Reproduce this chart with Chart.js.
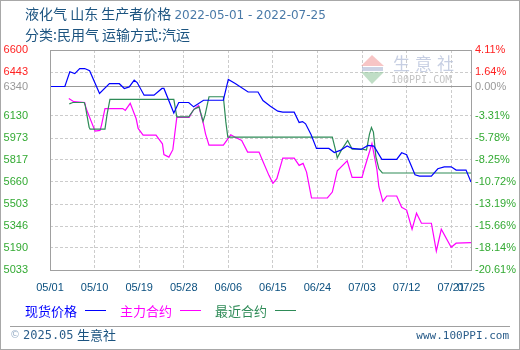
<!DOCTYPE html>
<html>
<head>
<meta charset="utf-8">
<script src="https://cdn.jsdelivr.net/npm/chart.js@4.4.0/dist/chart.umd.min.js"></script>
<style>
    html, body { margin: 0; padding: 0; background: #fff; }
    #wrap { width: 520px; height: 350px; position: relative; }
</style>
</head>
<body>
<div id="wrap"><canvas id="priceChart"></canvas></div>
<script>
// 天数从 05/01 起算
var spotDays = [0, 3, 4, 5, 6, 7, 8, 10, 12, 14, 15, 16, 17, 17.6, 19, 21, 22.6, 23, 25, 26, 28, 29, 31, 35, 36, 37.4, 40, 42, 43, 44.5, 46, 47, 49.3, 50.3, 51, 51.6, 52.7, 53.8, 56.3, 57.4, 58.6, 60, 61, 62.8, 64.2, 65.4, 67, 70, 71, 72, 73.7, 74.6, 77, 78.3, 79.6, 81, 82, 84, 85];
var spotPrices = [6340, 6340, 6445, 6432, 6468, 6468, 6452, 6290, 6360, 6360, 6326, 6337, 6385, 6368, 6278, 6278, 6326, 6326, 6152, 6226, 6226, 6195, 6242, 6242, 6390, 6361, 6301, 6301, 6240, 6200, 6164, 6157, 6157, 6084, 6090, 6074, 5998, 5899, 5899, 5870, 5885, 5917, 5899, 5892, 5920, 5915, 5821, 5821, 5868, 5854, 5711, 5702, 5702, 5754, 5768, 5768, 5745, 5745, 5660];

var mainDays = [3.8, 4.8, 7, 7.3, 9.1, 10.1, 10.4, 11.1, 14.7, 15.2, 16.2, 17.4, 17.8, 18.8, 21.4, 22.7, 23, 24, 24.8, 25.6, 28.1, 29, 30, 31, 31.4, 32.1, 35, 36.5, 37.3, 38.7, 39.9, 42.2, 43, 44.2, 45, 45.8, 47, 49.3, 50.3, 51.1, 51.8, 52.8, 56, 57, 58, 60, 61, 63, 63.4, 65, 66, 66.4, 67.2, 68, 70, 71, 72, 73.1, 74, 75, 77, 77.6, 78, 79, 81, 82, 85];
var mainPrices = [6254, 6232, 6226, 6183, 6022, 6027, 6065, 6183, 6183, 6170, 6220, 6110, 6041, 5994, 5994, 5932, 5855, 5837, 5890, 6120, 6120, 6176, 6204, 6070, 6003, 5922, 5922, 5996, 5980, 5955, 5873, 5873, 5806, 5707, 5650, 5683, 5830, 5830, 5778, 5792, 5730, 5546, 5546, 5588, 5740, 5811, 5693, 5693, 5745, 5934, 5750, 5626, 5522, 5560, 5560, 5480, 5460, 5323, 5437, 5366, 5366, 5247, 5167, 5323, 5195, 5224, 5228];

var nearDays = [3.9, 4.6, 6.9, 7.1, 7.9, 8.1, 11.1, 11.5, 12.1, 25, 25.6, 28, 29.1, 30.1, 30.9, 31.3, 32.1, 35, 35.5, 35.9, 57, 57.6, 58, 58.8, 60.1, 61, 63.1, 63.9, 64.5, 64.9, 65.3, 65.8, 66.4, 67.1, 85];
var nearPrices = [6216, 6226, 6226, 6207, 6050, 6036, 6036, 6136, 6248, 6248, 6124, 6124, 6178, 6195, 6092, 6136, 6267, 6267, 6088, 5980, 5980, 5894, 5832, 5885, 5956, 5894, 5894, 5887, 6001, 6048, 6015, 5839, 5754, 5724, 5724];

var dateDays = [0, 9, 18, 27, 36, 45, 54, 63, 72, 81, 85];
var dateLabels = ['05/01', '05/10', '05/19', '05/28', '06/06', '06/15', '06/24', '07/03', '07/12', '07/21', '07/25'];
var priceTicks = [5033, 5190, 5346, 5503, 5660, 5817, 5973, 6130, 6340, 6443, 6600];
var pctLabels = ['-20.61%', '-18.14%', '-15.66%', '-13.19%', '-10.72%', '-8.25%', '-5.78%', '-3.31%', '0.00%', '1.64%', '4.11%'];
var basePrice = 6340;

var seriesNames = ['现货价格', '主力合约', '最近合约'];
var seriesColors = ['#0000ff', '#ff00ff', '#2e8b57'];

function toPoints(days, vals) {
    return days.map(function (d, i) { return { x: d, y: vals[i] }; });
}

function tickColor(ctx) {
    var v = ctx.tick ? ctx.tick.value : 0;
    if (v > basePrice) return '#ff2222';
    if (v === basePrice) return '#999999';
    return '#33aa33';
}

var cjk = '"Noto Sans CJK SC", sans-serif';

var decor = {
    id: 'decor',
    beforeDraw: function (chart) {
        var c = chart.ctx;
        c.save();
        c.fillStyle = '#fff';
        c.fillRect(0, 0, chart.width, chart.height);
        c.restore();
    },
    beforeDatasetsDraw: function (chart) {
        // 水印
        var c = chart.ctx;
        c.save();
        c.fillStyle = 'rgba(240,150,150,0.55)';
        c.beginPath(); c.moveTo(372, 55); c.lineTo(384, 66); c.lineTo(361, 66); c.closePath(); c.fill();
        c.fillStyle = 'rgba(150,200,160,0.6)';
        c.beginPath(); c.moveTo(361, 72); c.lineTo(384, 72); c.lineTo(372, 84); c.closePath(); c.fill();
        c.fillStyle = 'rgba(170,180,210,0.6)';
        c.fillRect(362, 67, 21, 4);
        c.fillStyle = 'rgba(185,195,220,0.8)';
        c.font = '17px ' + cjk;
        c.textBaseline = 'middle';
        var chars = ['生', '意', '社'];
        for (var i = 0; i < 3; i++) c.fillText(chars[i], 393 + i * 22, 64);
        c.fillStyle = 'rgba(190,190,190,0.9)';
        c.font = '10px "DejaVu Sans Mono"';
        c.fillText('100PPI.COM', 391, 80);
        c.restore();
    },
    afterDraw: function (chart) {
        var c = chart.ctx, a = chart.chartArea;
        c.save();
        // 图框
        c.strokeStyle = '#a0a0a0';
        c.lineWidth = 1;
        c.strokeRect(Math.round(a.left) + 0.5, Math.round(a.top) + 0.5, Math.round(a.right - a.left), Math.round(a.bottom - a.top));

        // 标题
        c.textBaseline = 'alphabetic';
        c.textAlign = 'left';
        c.font = '14px ' + cjk;
        c.fillStyle = '#1c5480';
        var t1 = '液化气 山东 生产者价格 ';
        c.fillText(t1, 25, 19);
        var w1 = c.measureText(t1).width;
        c.font = '12px "DejaVu Sans"';
        c.fillStyle = '#4a7aa8';
        c.fillText('2022-05-01 - 2022-07-25', 25 + w1, 19);
        c.font = '14px ' + cjk;
        c.fillStyle = '#1c5480';
        c.fillText('分类:民用气 运输方式:汽运', 25, 40);

        // 图例
        var lx = [25, 120, 215];
        c.font = '13px ' + cjk;
        c.textBaseline = 'middle';
        for (var i = 0; i < 3; i++) {
            c.fillStyle = seriesColors[i];
            c.fillText(seriesNames[i], lx[i], 311);
            c.strokeStyle = seriesColors[i];
            c.beginPath();
            c.moveTo(lx[i] + 60, 310.5);
            c.lineTo(lx[i] + 81, 310.5);
            c.stroke();
        }

        // 底部
        c.strokeStyle = '#a0a0a0';
        c.beginPath(); c.moveTo(10, 326.5); c.lineTo(510, 326.5); c.stroke();
        c.fillStyle = '#9ab0c8';
        c.font = '10px "DejaVu Sans"';
        c.fillText('©', 10, 335);
        c.fillStyle = '#2a5d8a';
        c.font = '12px "DejaVu Sans Mono"';
        c.fillText('2025.05', 23, 336);
        c.fillStyle = '#1c5480';
        c.font = '13px ' + cjk;
        c.fillText('生意社', 77, 335);
        c.textAlign = 'right';
        c.fillStyle = '#2a5d8a';
        c.font = '11px "DejaVu Sans Mono"';
        c.fillText('www.100PPI.com', 509, 336);

        // 外框
        c.strokeStyle = '#a8a8a8';
        c.strokeRect(0.5, 0.5, chart.width - 1, chart.height - 1);
        c.restore();
    }
};

var tickFont = { family: '"Liberation Sans"', size: 11 };

var ctx = document.getElementById('priceChart').getContext('2d');
var chart = new Chart(ctx, {
    type: 'line',
    data: {
        datasets: [
            { label: seriesNames[0], data: toPoints(spotDays, spotPrices), borderColor: seriesColors[0], order: 0 },
            { label: seriesNames[1], data: toPoints(mainDays, mainPrices), borderColor: seriesColors[1], order: 2 },
            { label: seriesNames[2], data: toPoints(nearDays, nearPrices), borderColor: seriesColors[2], order: 1 }
        ]
    },
    options: {
        responsive: true,
        maintainAspectRatio: false,
        animation: false,
        layout: { padding: { top: 50, left: 0, right: 0, bottom: 0 } },
        elements: {
            line: { borderWidth: 1.2, tension: 0, fill: false },
            point: { radius: 0, hoverRadius: 0 }
        },
        plugins: {
            legend: { display: false },
            tooltip: { enabled: false },
            title: { display: false }
        },
        scales: {
            x: {
                type: 'linear',
                min: 0,
                max: 85,
                afterBuildTicks: function (s) { s.ticks = dateDays.map(function (d) { return { value: d }; }); },
                afterFit: function (s) { s.height = 80; },
                ticks: {
                    autoSkip: false,
                    maxRotation: 0,
                    padding: 11,
                    color: '#0a4f7f',
                    font: tickFont,
                    callback: function (v, i) { return dateLabels[i]; }
                },
                grid: { color: '#cccccc', drawTicks: false },
                border: { display: false, dash: [3, 2] }
            },
            y: {
                position: 'left',
                min: 5033,
                max: 6600,
                afterBuildTicks: function (s) { s.ticks = priceTicks.map(function (v) { return { value: v }; }); },
                afterFit: function (s) { s.width = 50; },
                ticks: {
                    padding: 22,
                    color: tickColor,
                    font: tickFont,
                    callback: function (v) { return String(v); }
                },
                grid: {
                    drawTicks: false,
                    color: function (c) { return c.tick && c.tick.value === basePrice ? '#999999' : '#cccccc'; }
                },
                border: {
                    display: false,
                    dash: function (c) { return c.tick && c.tick.value === basePrice ? [] : [3, 2]; }
                }
            },
            y2: {
                position: 'right',
                min: 5033,
                max: 6600,
                afterBuildTicks: function (s) { s.ticks = priceTicks.map(function (v) { return { value: v }; }); },
                afterFit: function (s) { s.width = 49; },
                ticks: {
                    padding: 4,
                    color: tickColor,
                    font: tickFont,
                    callback: function (v, i) { return pctLabels[i]; }
                },
                grid: { drawOnChartArea: false, drawTicks: false },
                border: { display: false }
            }
        }
    },
    plugins: [decor]
});
</script>
</body>
</html>
